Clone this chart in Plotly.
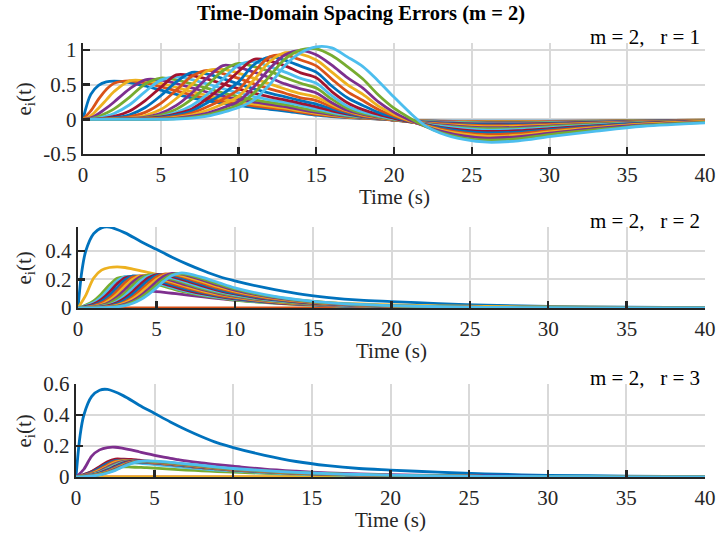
import plotly.graph_objects as go

# MATLAB default colour order (vehicle i uses COLORS[(i-1) % 7])
COLORS = ["#0072BD", "#D95319", "#EDB120", "#7E2F8E", "#77AC30", "#4DBEEE", "#A2142F"]

X_TICKS = [0, 5, 10, 15, 20, 25, 30, 35, 40]
Y1_TICKS = [-0.5, 0, 0.5, 1]
Y1_LABELS = ["-0.5", "0", "0.5", "1"]
Y2_TICKS = [0, 0.2, 0.4]
Y2_LABELS = ["0", "0.2", "0.4"]
Y3_TICKS = [0, 0.2, 0.4, 0.6]
Y3_LABELS = ["0", "0.2", "0.4", "0.6"]

TITLE = "Time-Domain Spacing Errors (m = 2)"
PANEL_TAGS = ["m = 2,&nbsp;&nbsp; r = 1", "m = 2,&nbsp;&nbsp; r = 2", "m = 2,&nbsp;&nbsp; r = 3"]

# ---------------- panel 1 (r = 1): sample times and e_i(t) ----------------
T1 = [0, 0.5, 1, 1.5, 2, 3, 4, 5, 6, 7, 8, 9, 10, 11, 12, 13, 14, 15, 16, 17,
      18, 19, 20, 21, 22, 23, 24.5, 26, 28, 30, 33, 36, 40]
r1_e01 = [0, 0.36, 0.49, 0.54, 0.55, 0.53, 0.48, 0.42, 0.36, 0.31, 0.265, 0.23, 0.2, 0.17, 0.145, 0.12, 0.09, 0.06, 0.04, 0.025, 0.015, 0.004, -0.007, -0.016, -0.021, -0.025, -0.027, -0.028, -0.028, -0.027, -0.023, -0.018, -0.012]
r1_e02 = [0, 0.12, 0.29, 0.43, 0.52, 0.555, 0.524, 0.47, 0.41, 0.35, 0.30, 0.26, 0.225, 0.195, 0.165, 0.14, 0.105, 0.07, 0.047, 0.03, 0.018, 0.005, -0.008, -0.018, -0.024, -0.028, -0.031, -0.032, -0.032, -0.03, -0.025, -0.019, -0.012]
r1_e03 = [0, 0.05, 0.16, 0.28, 0.4, 0.555, 0.555, 0.518, 0.46, 0.398, 0.342, 0.293, 0.253, 0.22, 0.189, 0.16, 0.12, 0.085, 0.057, 0.035, 0.02, 0.006, -0.009, -0.02, -0.027, -0.031, -0.035, -0.037, -0.037, -0.034, -0.027, -0.02, -0.013]
r1_e04 = [0, 0.02, 0.08, 0.16, 0.25, 0.44, 0.57, 0.566, 0.516, 0.453, 0.39, 0.335, 0.286, 0.248, 0.216, 0.184, 0.14, 0.1, 0.068, 0.042, 0.025, 0.008, -0.01, -0.022, -0.03, -0.035, -0.04, -0.043, -0.043, -0.039, -0.03, -0.022, -0.014]
r1_e05 = [0, 0.008, 0.04, 0.09, 0.15, 0.32, 0.51, 0.595, 0.567, 0.51, 0.445, 0.38, 0.327, 0.28, 0.244, 0.211, 0.165, 0.12, 0.082, 0.05, 0.03, 0.01, -0.01, -0.024, -0.033, -0.04, -0.046, -0.05, -0.05, -0.045, -0.034, -0.024, -0.015]
r1_e06 = [0, 0.003, 0.018, 0.045, 0.085, 0.21, 0.4, 0.565, 0.613, 0.573, 0.51, 0.443, 0.38, 0.326, 0.28, 0.244, 0.2, 0.15, 0.1, 0.06, 0.035, 0.012, -0.01, -0.026, -0.037, -0.045, -0.053, -0.058, -0.058, -0.051, -0.038, -0.026, -0.016]
r1_e07 = [0, 0.001, 0.007, 0.02, 0.042, 0.12, 0.27, 0.46, 0.64, 0.63, 0.58, 0.51, 0.44, 0.378, 0.323, 0.28, 0.23, 0.18, 0.122, 0.075, 0.04, 0.015, -0.01, -0.028, -0.041, -0.051, -0.061, -0.067, -0.067, -0.058, -0.042, -0.028, -0.017]
r1_e08 = [0, 0, 0.003, 0.009, 0.02, 0.065, 0.17, 0.34, 0.54, 0.675, 0.65, 0.586, 0.51, 0.44, 0.377, 0.323, 0.27, 0.22, 0.15, 0.09, 0.045, 0.017, -0.01, -0.03, -0.045, -0.057, -0.07, -0.078, -0.077, -0.066, -0.047, -0.031, -0.018]
r1_e09 = [0, 0, 0.001, 0.004, 0.01, 0.035, 0.1, 0.23, 0.42, 0.62, 0.705, 0.66, 0.59, 0.51, 0.44, 0.376, 0.31, 0.27, 0.18, 0.105, 0.05, 0.02, -0.01, -0.033, -0.05, -0.064, -0.08, -0.09, -0.088, -0.075, -0.052, -0.034, -0.019]
r1_e10 = [0, 0, 0, 0.002, 0.005, 0.018, 0.055, 0.14, 0.3, 0.5, 0.7, 0.72, 0.666, 0.59, 0.51, 0.437, 0.37, 0.32, 0.21, 0.12, 0.06, 0.025, -0.008, -0.034, -0.055, -0.072, -0.092, -0.105, -0.1, -0.085, -0.058, -0.037, -0.02]
r1_e11 = [0, 0, 0, 0, 0.002, 0.009, 0.03, 0.085, 0.2, 0.38, 0.6, 0.775, 0.75, 0.68, 0.6, 0.51, 0.44, 0.38, 0.24, 0.13, 0.07, 0.03, -0.005, -0.035, -0.06, -0.08, -0.105, -0.12, -0.115, -0.095, -0.065, -0.04, -0.022]
r1_e12 = [0, 0, 0, 0, 0.001, 0.005, 0.02, 0.06, 0.145, 0.29, 0.49, 0.7, 0.805, 0.76, 0.69, 0.6, 0.52, 0.45, 0.29, 0.16, 0.085, 0.04, 0.0, -0.035, -0.065, -0.09, -0.12, -0.135, -0.13, -0.105, -0.07, -0.045, -0.024]
r1_e13 = [0, 0, 0, 0, 0, 0.003, 0.013, 0.04, 0.1, 0.2, 0.36, 0.58, 0.78, 0.83, 0.76, 0.68, 0.59, 0.52, 0.34, 0.19, 0.105, 0.05, 0.005, -0.035, -0.07, -0.1, -0.135, -0.155, -0.145, -0.12, -0.08, -0.05, -0.025]
r1_e14 = [0, 0, 0, 0, 0, 0.003, 0.012, 0.035, 0.08, 0.15, 0.3, 0.48, 0.69, 0.865, 0.84, 0.77, 0.67, 0.6, 0.4, 0.24, 0.14, 0.07, 0.015, -0.035, -0.075, -0.115, -0.155, -0.175, -0.165, -0.135, -0.09, -0.055, -0.028]
r1_e15 = [0, 0, 0, 0, 0, 0.002, 0.008, 0.025, 0.06, 0.12, 0.24, 0.37, 0.54, 0.79, 0.895, 0.85, 0.766, 0.68, 0.48, 0.31, 0.2, 0.1, 0.03, -0.03, -0.08, -0.125, -0.175, -0.195, -0.185, -0.15, -0.1, -0.06, -0.03]
r1_e16 = [0, 0, 0, 0, 0, 0.001, 0.005, 0.016, 0.042, 0.09, 0.18, 0.29, 0.43, 0.68, 0.9, 0.925, 0.855, 0.77, 0.58, 0.4, 0.27, 0.14, 0.05, -0.025, -0.085, -0.14, -0.195, -0.22, -0.205, -0.165, -0.11, -0.065, -0.03]
r1_e17 = [0, 0, 0, 0, 0, 0, 0.003, 0.01, 0.028, 0.065, 0.13, 0.22, 0.33, 0.57, 0.83, 0.96, 0.94, 0.855, 0.68, 0.5, 0.36, 0.19, 0.07, -0.02, -0.09, -0.155, -0.215, -0.245, -0.23, -0.18, -0.12, -0.07, -0.035]
r1_e18 = [0, 0, 0, 0, 0, 0, 0.001, 0.005, 0.017, 0.045, 0.09, 0.165, 0.26, 0.47, 0.73, 0.93, 0.99, 0.93, 0.78, 0.6, 0.45, 0.25, 0.1, -0.01, -0.1, -0.17, -0.24, -0.27, -0.25, -0.2, -0.13, -0.08, -0.04]
r1_e19 = [0, 0, 0, 0, 0, 0, 0, 0.002, 0.009, 0.028, 0.065, 0.13, 0.21, 0.38, 0.62, 0.87, 1.0, 1.015, 0.92, 0.76, 0.58, 0.35, 0.16, 0.02, -0.1, -0.19, -0.27, -0.3, -0.28, -0.22, -0.15, -0.09, -0.045]
r1_e20 = [0, 0, 0, 0, 0, 0, 0, 0, 0.003, 0.016, 0.045, 0.1, 0.17, 0.28, 0.5, 0.78, 0.96, 1.045, 1.03, 0.9, 0.76, 0.55, 0.32, 0.1, -0.09, -0.2, -0.29, -0.33, -0.31, -0.25, -0.17, -0.1, -0.05]

# ---------------- panels 2 and 3: shared sample times ----------------
T2 = [0, 0.5, 1, 1.5, 2, 2.5, 3, 3.5, 4, 4.5, 5, 5.5, 6, 6.5, 7, 8, 9, 10, 12, 14,
      16, 18, 20, 23, 26, 30, 35, 40]
# vehicle 1 (identical in r = 2 and r = 3) has its own finer start
T_LEAD = [0, 0.25, 0.5, 1, 1.5, 2, 3, 4, 5, 6, 7, 8, 9, 10, 12, 14, 16, 18, 20, 23, 26, 30, 35, 40]
e01_lead = [0, 0.26, 0.4, 0.52, 0.56, 0.565, 0.525, 0.465, 0.41, 0.355, 0.305, 0.26, 0.22, 0.19, 0.14, 0.1, 0.073, 0.055, 0.045, 0.031, 0.02, 0.011, 0.006, 0.003]
T_FLAT = [0, 40]
e_flat = [0, 0]

# panel 2 (r = 2)
r2_e03 = [0, 0.09, 0.21, 0.265, 0.283, 0.288, 0.283, 0.272, 0.26, 0.248, 0.235, 0.22, 0.205, 0.19, 0.175, 0.15, 0.125, 0.105, 0.075, 0.053, 0.038, 0.028, 0.022, 0.015, 0.011, 0.007, 0.004, 0.002]
r2_e04 = [0, 0.01, 0.045, 0.09, 0.12, 0.137, 0.142, 0.138, 0.13, 0.122, 0.115, 0.109, 0.103, 0.097, 0.09, 0.077, 0.066, 0.055, 0.041, 0.03, 0.022, 0.016, 0.012, 0.008, 0.005, 0.003, 0.0015, 0.0007]
r2_e05 = [0, 0.02, 0.05, 0.1, 0.16, 0.208, 0.218, 0.211, 0.198, 0.183, 0.167, 0.15, 0.135, 0.12, 0.108, 0.087, 0.07, 0.056, 0.037, 0.024, 0.016, 0.011, 0.007, 0.0036, 0.002, 0.001, 0.0004, 0.0002]
r2_e06 = [0, 0.016, 0.037, 0.078, 0.135, 0.19, 0.22, 0.218, 0.208, 0.192, 0.177, 0.159, 0.144, 0.128, 0.115, 0.092, 0.074, 0.06, 0.039, 0.026, 0.017, 0.011, 0.0073, 0.0038, 0.0022, 0.0011, 0.0005, 0.0002]
r2_e07 = [0, 0.011, 0.027, 0.06, 0.11, 0.17, 0.212, 0.221, 0.214, 0.201, 0.186, 0.169, 0.152, 0.136, 0.122, 0.098, 0.079, 0.064, 0.042, 0.027, 0.018, 0.012, 0.0078, 0.004, 0.0024, 0.0012, 0.0005, 0.0002]
r2_e08 = [0, 0.008, 0.02, 0.045, 0.088, 0.144, 0.196, 0.224, 0.221, 0.21, 0.195, 0.179, 0.162, 0.146, 0.13, 0.105, 0.084, 0.068, 0.044, 0.029, 0.019, 0.012, 0.0083, 0.0043, 0.0025, 0.0013, 0.0005, 0.0002]
r2_e09 = [0, 0.005, 0.015, 0.034, 0.069, 0.12, 0.176, 0.216, 0.225, 0.218, 0.205, 0.189, 0.172, 0.155, 0.139, 0.111, 0.089, 0.072, 0.047, 0.031, 0.02, 0.013, 0.0088, 0.0045, 0.0026, 0.0013, 0.0005, 0.0002]
r2_e10 = [0, 0.004, 0.011, 0.024, 0.054, 0.098, 0.152, 0.201, 0.227, 0.224, 0.213, 0.198, 0.182, 0.164, 0.148, 0.118, 0.095, 0.076, 0.05, 0.032, 0.021, 0.014, 0.0092, 0.0048, 0.0027, 0.0014, 0.0005, 0.0002]
r2_e11 = [0, 0.003, 0.008, 0.019, 0.041, 0.078, 0.13, 0.182, 0.219, 0.228, 0.221, 0.207, 0.191, 0.174, 0.157, 0.126, 0.101, 0.081, 0.053, 0.035, 0.022, 0.015, 0.0098, 0.005, 0.0028, 0.0014, 0.0006, 0.0002]
r2_e12 = [0, 0.002, 0.006, 0.015, 0.032, 0.063, 0.107, 0.16, 0.207, 0.231, 0.228, 0.217, 0.201, 0.185, 0.167, 0.134, 0.108, 0.087, 0.056, 0.036, 0.024, 0.016, 0.0105, 0.0053, 0.003, 0.0015, 0.0006, 0.0002]
r2_e13 = [0, 0.002, 0.004, 0.011, 0.022, 0.048, 0.087, 0.138, 0.189, 0.223, 0.231, 0.224, 0.21, 0.194, 0.177, 0.143, 0.114, 0.092, 0.059, 0.039, 0.026, 0.017, 0.011, 0.0058, 0.0032, 0.0016, 0.0006, 0.0002]
r2_e14 = [0, 0.0016, 0.0035, 0.008, 0.018, 0.038, 0.07, 0.115, 0.168, 0.212, 0.234, 0.231, 0.22, 0.204, 0.187, 0.152, 0.121, 0.098, 0.063, 0.042, 0.027, 0.018, 0.012, 0.0061, 0.0033, 0.0017, 0.0006, 0.0002]
r2_e15 = [0, 0.0013, 0.0026, 0.006, 0.014, 0.029, 0.057, 0.097, 0.147, 0.195, 0.227, 0.235, 0.228, 0.214, 0.197, 0.162, 0.129, 0.104, 0.068, 0.044, 0.029, 0.019, 0.0126, 0.0066, 0.0035, 0.0018, 0.0007, 0.0002]
r2_e16 = [0, 0.001, 0.0022, 0.0045, 0.011, 0.022, 0.044, 0.078, 0.125, 0.175, 0.217, 0.237, 0.234, 0.223, 0.206, 0.171, 0.137, 0.111, 0.071, 0.047, 0.031, 0.02, 0.013, 0.0069, 0.0037, 0.0019, 0.0007, 0.0002]
r2_e17 = [0, 0.0008, 0.0018, 0.0036, 0.0084, 0.018, 0.036, 0.065, 0.106, 0.155, 0.2, 0.23, 0.238, 0.23, 0.216, 0.182, 0.147, 0.118, 0.076, 0.05, 0.032, 0.021, 0.014, 0.0072, 0.0039, 0.002, 0.0007, 0.0003]
r2_e18 = [0, 0.0007, 0.0015, 0.003, 0.006, 0.013, 0.027, 0.051, 0.087, 0.133, 0.183, 0.223, 0.241, 0.238, 0.226, 0.193, 0.157, 0.125, 0.081, 0.053, 0.034, 0.022, 0.0148, 0.0081, 0.0041, 0.0021, 0.0008, 0.0003]
r2_e19 = [0, 0.0006, 0.0012, 0.0023, 0.0046, 0.011, 0.021, 0.041, 0.072, 0.114, 0.161, 0.205, 0.233, 0.241, 0.233, 0.202, 0.166, 0.133, 0.086, 0.056, 0.036, 0.024, 0.0156, 0.0086, 0.0044, 0.0022, 0.0008, 0.0003]
r2_e20 = [0, 0.0005, 0.0011, 0.002, 0.0039, 0.0086, 0.017, 0.033, 0.059, 0.096, 0.141, 0.189, 0.227, 0.244, 0.241, 0.212, 0.176, 0.141, 0.092, 0.059, 0.038, 0.025, 0.0167, 0.009, 0.0047, 0.0024, 0.0009, 0.0003]

# panel 3 (r = 3)
r3_e04 = [0, 0.05, 0.135, 0.175, 0.19, 0.192, 0.185, 0.175, 0.163, 0.151, 0.14, 0.13, 0.12, 0.112, 0.104, 0.091, 0.08, 0.07, 0.05, 0.037, 0.027, 0.02, 0.015, 0.01, 0.007, 0.004, 0.002, 0.001]
r3_e05 = [0, 0.012, 0.035, 0.052, 0.062, 0.066, 0.066, 0.064, 0.062, 0.06, 0.057, 0.054, 0.051, 0.048, 0.045, 0.04, 0.035, 0.031, 0.024, 0.018, 0.014, 0.01, 0.008, 0.005, 0.003, 0.002, 0.001, 0.0005]
r3_e06 = [0, 0.0155, 0.034, 0.063, 0.089, 0.098, 0.096, 0.093, 0.089, 0.085, 0.08, 0.075, 0.071, 0.066, 0.061, 0.052, 0.045, 0.039, 0.028, 0.021, 0.015, 0.011, 0.008, 0.005, 0.0032, 0.0018, 0.0009, 0.0004]
r3_e07 = [0, 0.016, 0.036, 0.067, 0.099, 0.116, 0.115, 0.113, 0.108, 0.103, 0.098, 0.092, 0.086, 0.08, 0.074, 0.064, 0.055, 0.047, 0.035, 0.026, 0.019, 0.0136, 0.0097, 0.0061, 0.004, 0.0022, 0.0011, 0.0005]
r3_e08 = [0, 0.0125, 0.03, 0.057, 0.087, 0.106, 0.109, 0.106, 0.103, 0.098, 0.093, 0.088, 0.082, 0.077, 0.071, 0.061, 0.052, 0.045, 0.033, 0.025, 0.018, 0.013, 0.0094, 0.0058, 0.0037, 0.0021, 0.001, 0.0005]
r3_e09 = [0, 0.01, 0.025, 0.049, 0.078, 0.101, 0.106, 0.104, 0.101, 0.097, 0.092, 0.087, 0.081, 0.076, 0.071, 0.06, 0.052, 0.045, 0.033, 0.024, 0.018, 0.013, 0.0093, 0.0057, 0.0036, 0.002, 0.001, 0.0005]
r3_e10 = [0, 0.009, 0.021, 0.043, 0.07, 0.095, 0.104, 0.102, 0.099, 0.095, 0.091, 0.086, 0.081, 0.075, 0.07, 0.06, 0.052, 0.044, 0.033, 0.024, 0.018, 0.013, 0.0093, 0.0058, 0.0036, 0.002, 0.001, 0.0005]
r3_e11 = [0, 0.008, 0.018, 0.037, 0.063, 0.087, 0.1, 0.1, 0.098, 0.094, 0.09, 0.085, 0.08, 0.075, 0.07, 0.06, 0.052, 0.044, 0.033, 0.024, 0.018, 0.013, 0.0093, 0.0059, 0.0037, 0.002, 0.001, 0.0005]
r3_e12 = [0, 0.007, 0.016, 0.032, 0.056, 0.081, 0.097, 0.1, 0.098, 0.095, 0.091, 0.086, 0.081, 0.076, 0.071, 0.061, 0.052, 0.045, 0.033, 0.025, 0.018, 0.013, 0.0094, 0.006, 0.0038, 0.0021, 0.001, 0.0005]
r3_e13 = [0, 0.006, 0.014, 0.029, 0.051, 0.076, 0.094, 0.099, 0.097, 0.095, 0.091, 0.087, 0.082, 0.077, 0.072, 0.062, 0.053, 0.046, 0.034, 0.025, 0.018, 0.013, 0.0095, 0.006, 0.0038, 0.0021, 0.001, 0.0005]
r3_e14 = [0, 0.005, 0.012, 0.026, 0.046, 0.07, 0.091, 0.1, 0.098, 0.096, 0.092, 0.088, 0.083, 0.078, 0.073, 0.063, 0.054, 0.046, 0.035, 0.025, 0.019, 0.0135, 0.0097, 0.0061, 0.0039, 0.0022, 0.0011, 0.0005]
r3_e15 = [0, 0.0047, 0.0104, 0.023, 0.041, 0.065, 0.086, 0.098, 0.098, 0.096, 0.093, 0.089, 0.084, 0.079, 0.074, 0.064, 0.055, 0.047, 0.035, 0.026, 0.019, 0.0137, 0.0099, 0.0062, 0.004, 0.0022, 0.0011, 0.0005]
r3_e16 = [0, 0.0043, 0.0093, 0.02, 0.037, 0.059, 0.081, 0.096, 0.099, 0.097, 0.094, 0.09, 0.086, 0.081, 0.076, 0.066, 0.056, 0.048, 0.036, 0.026, 0.019, 0.014, 0.01, 0.0063, 0.004, 0.0022, 0.0011, 0.0005]
r3_e17 = [0, 0.0038, 0.0086, 0.018, 0.033, 0.055, 0.077, 0.095, 0.1, 0.099, 0.096, 0.092, 0.088, 0.083, 0.078, 0.068, 0.058, 0.05, 0.037, 0.027, 0.02, 0.0144, 0.0105, 0.0065, 0.0041, 0.0023, 0.0011, 0.0006]
r3_e18 = [0, 0.0035, 0.008, 0.016, 0.031, 0.051, 0.073, 0.093, 0.102, 0.1, 0.098, 0.094, 0.09, 0.085, 0.08, 0.07, 0.059, 0.051, 0.038, 0.028, 0.0205, 0.0149, 0.0108, 0.0067, 0.0042, 0.0024, 0.0012, 0.0006]
r3_e19 = [0, 0.0032, 0.0072, 0.015, 0.028, 0.047, 0.069, 0.089, 0.1, 0.102, 0.1, 0.096, 0.092, 0.087, 0.082, 0.072, 0.061, 0.053, 0.039, 0.029, 0.021, 0.0154, 0.0111, 0.0069, 0.0043, 0.0024, 0.0012, 0.0006]
r3_e20 = [0, 0.0028, 0.0066, 0.013, 0.026, 0.043, 0.066, 0.086, 0.1, 0.104, 0.102, 0.099, 0.095, 0.09, 0.085, 0.075, 0.064, 0.055, 0.041, 0.03, 0.022, 0.016, 0.0116, 0.0072, 0.0045, 0.0025, 0.0012, 0.0006]

# ---------------- assemble (time, values) per vehicle ----------------
PANEL1 = [(T1, s) for s in [r1_e01, r1_e02, r1_e03, r1_e04, r1_e05, r1_e06, r1_e07, r1_e08, r1_e09, r1_e10,
                            r1_e11, r1_e12, r1_e13, r1_e14, r1_e15, r1_e16, r1_e17, r1_e18, r1_e19, r1_e20]]
PANEL2 = [(T_LEAD, e01_lead), (T_FLAT, e_flat)] + [(T2, s) for s in [
    r2_e03, r2_e04, r2_e05, r2_e06, r2_e07, r2_e08, r2_e09, r2_e10, r2_e11, r2_e12,
    r2_e13, r2_e14, r2_e15, r2_e16, r2_e17, r2_e18, r2_e19, r2_e20]]
PANEL3 = [(T_LEAD, e01_lead), (T_FLAT, e_flat), (T_FLAT, e_flat)] + [(T2, s) for s in [
    r3_e04, r3_e05, r3_e06, r3_e07, r3_e08, r3_e09, r3_e10, r3_e11, r3_e12,
    r3_e13, r3_e14, r3_e15, r3_e16, r3_e17, r3_e18, r3_e19, r3_e20]]

# The page body margin is removed (post_script below), so the figure fills the window.
W, H = 717, 538
FONT = "Liberation Serif"
INK = "#262626"

def px_x(p):
    return p / W

def px_y(p):
    return 1 - p / H

# plot-area boxes in window pixels: (left, right, top, bottom)
BOXES = [(83, 705, 43, 154), (78, 705, 227, 308), (76, 705, 384, 477)]
YRANGES = [[-0.5, 1.1], [0, 0.566], [0, 0.6]]
YTICKS = [(Y1_TICKS, Y1_LABELS), (Y2_TICKS, Y2_LABELS), (Y3_TICKS, Y3_LABELS)]

fig = go.Figure()
for p, series in enumerate([PANEL1, PANEL2, PANEL3], start=1):
    suffix = "" if p == 1 else str(p)
    for i, (t, v) in enumerate(series):
        fig.add_trace(go.Scatter(
            x=t, y=v, mode="lines",
            line=dict(color=COLORS[i % 7], width=2.8, shape="spline", smoothing=0.9),
            xaxis="x" + suffix, yaxis="y" + suffix,
            showlegend=False, hoverinfo="skip"))

common = dict(showline=True, linecolor=INK, linewidth=2.4, ticks="inside", ticklen=7,
              tickwidth=2.4, tickcolor=INK, showgrid=True, gridcolor="#d9d9d9", gridwidth=2,
              zeroline=False, mirror=False, automargin=False, layer="above traces",
              tickfont=dict(family=FONT, size=21, color=INK))
layout = dict(template="none", width=W, height=H, margin=dict(l=0, r=0, t=0, b=0, pad=0),
              paper_bgcolor="white", plot_bgcolor="white", showlegend=False)
annotations = [dict(text="<b>" + TITLE + "</b>", x=px_x(361), y=px_y(13), xref="paper", yref="paper",
                    showarrow=False, xanchor="center", yanchor="middle",
                    font=dict(family=FONT, size=20.5, color="black"))]
for p in range(3):
    l, r, t, b = BOXES[p]
    suffix = "" if p == 0 else str(p + 1)
    layout["xaxis" + suffix] = dict(common, domain=[px_x(l), px_x(r)], range=[0, 40],
                                    tickvals=X_TICKS, anchor="y" + suffix)
    layout["yaxis" + suffix] = dict(common, domain=[px_y(b), px_y(t)], range=YRANGES[p],
                                    tickvals=YTICKS[p][0], ticktext=YTICKS[p][1],
                                    anchor="x" + suffix)
    annotations.append(dict(text="Time (s)", x=px_x((l + r) / 2), y=px_y(b + 43), xref="paper",
                            yref="paper", showarrow=False, xanchor="center", yanchor="middle",
                            font=dict(family=FONT, size=21, color=INK)))
    annotations.append(dict(text="e<sub>i</sub>(t)", x=px_x(24), y=px_y((t + b) / 2), xref="paper",
                            yref="paper", showarrow=False, xanchor="center", yanchor="middle",
                            textangle=-90, font=dict(family=FONT, size=21, color=INK)))
    annotations.append(dict(text=PANEL_TAGS[p], x=px_x(702), y=px_y(t - 6), xref="paper",
                            yref="paper", showarrow=False, xanchor="right", yanchor="middle",
                            font=dict(family=FONT, size=21, color="black")))
layout["annotations"] = annotations
fig.update_layout(**layout)
fig.write_html("out.html", config={"displayModeBar": False, "staticPlot": True},
               post_script="document.body.style.margin='0px';document.body.style.overflow='hidden';")
